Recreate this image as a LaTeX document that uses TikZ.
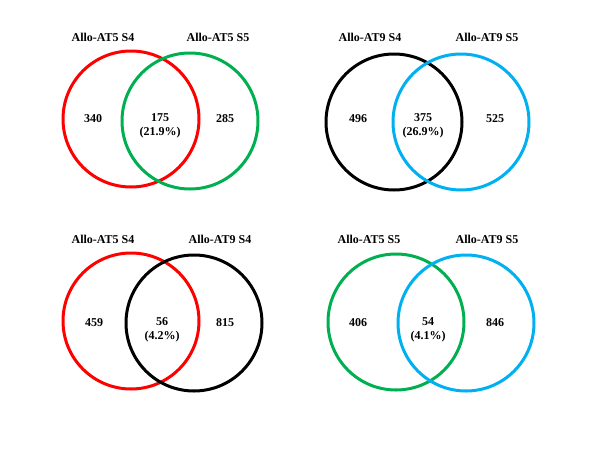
\documentclass[tikz,border=0pt]{standalone}
\usepackage{fontspec}
\setmainfont{Liberation Serif}
\definecolor{vred}{RGB}{255,0,0}
\definecolor{vgreen}{RGB}{0,176,80}
\definecolor{vblue}{RGB}{0,176,240}
\begin{document}
\begin{tikzpicture}[x=1pt,y=-1pt,
  ring/.style={circle,draw,line width=3pt,minimum size=136pt,inner sep=0pt},
  lab/.style={font=\fontsize{12}{14}\selectfont\bfseries,inner sep=0pt},
  num/.style={font=\fontsize{12}{14}\selectfont\bfseries,inner sep=0pt,align=center}]
\useasboundingbox (0,0) rectangle (600,453);
% top-left
\node[ring,draw=vred] (a1) at (131,119) {};
\node[ring,draw=vgreen] (a2) at (190,121) {};
\node[lab] (ta1) at (103,37) {Allo-AT5 S4};
\node[lab] (ta2) at (218,37) {Allo-AT5 S5};
\node[num] (na1) at (93,119) {340};
\node[num,anchor=north] (na12) at (160,113.5) {175\\(21.9\%)};
\node[num] (na2) at (225,119) {285};
% top-right
\node[ring,draw=black] (b1) at (394,122) {};
\node[ring,draw=vblue] (b2) at (461,122) {};
\node[lab] (tb1) at (370,37) {Allo-AT9 S4};
\node[lab] (tb2) at (487,37) {Allo-AT9 S5};
\node[num] (nb1) at (358,119) {496};
\node[num,anchor=north] (nb12) at (423,113.5) {375\\(26.9\%)};
\node[num] (nb2) at (495,119) {525};
% bottom-left
\node[ring,draw=vred] (c1) at (131,321) {};
\node[ring,draw=black] (c2) at (194,323) {};
\node[lab] (tc1) at (103,239) {Allo-AT5 S4};
\node[lab] (tc2) at (220,239) {Allo-AT9 S4};
\node[num] (nc1) at (94,323) {459};
\node[num,anchor=north] (nc12) at (162,317.5) {56\\(4.2\%)};
\node[num] (nc2) at (225,323) {815};
% bottom-right
\node[ring,draw=vgreen] (d1) at (396,322) {};
\node[ring,draw=vblue] (d2) at (466,323) {};
\node[lab] (td1) at (369,239) {Allo-AT5 S5};
\node[lab] (td2) at (487,239) {Allo-AT9 S5};
\node[num] (nd1) at (358,323) {406};
\node[num,anchor=north] (nd12) at (428,317.5) {54\\(4.1\%)};
\node[num] (nd2) at (495,323) {846};
\end{tikzpicture}
\end{document}
